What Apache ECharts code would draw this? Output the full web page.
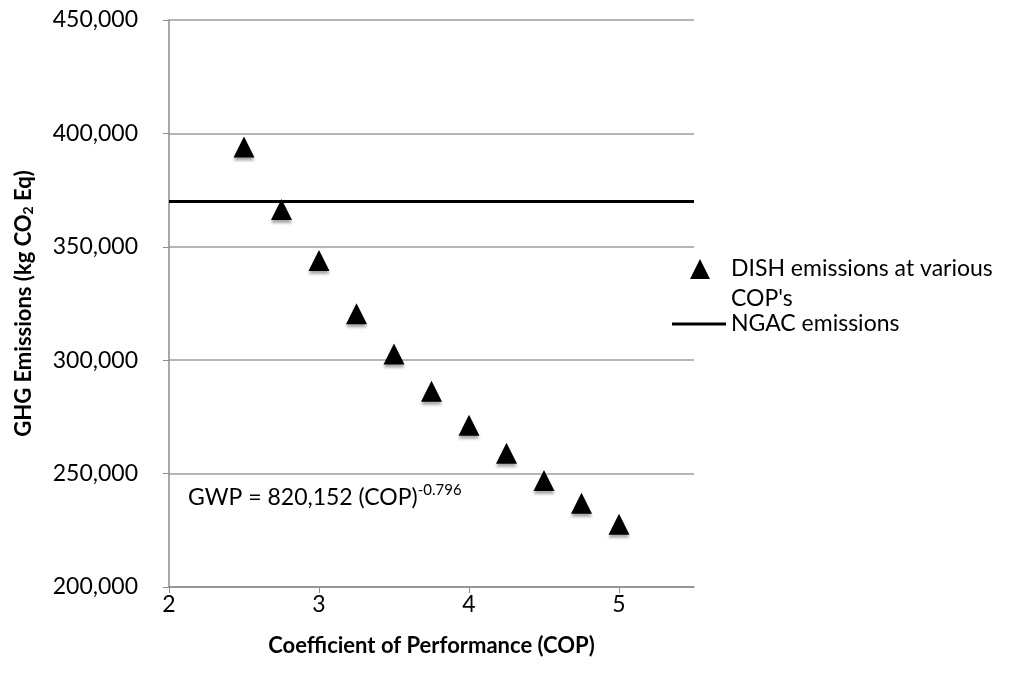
<!DOCTYPE html>
<html>
<head>
<meta charset="utf-8">
<script src="https://cdn.jsdelivr.net/npm/echarts@6/dist/echarts.min.js"></script>
<style>
  html, body { margin: 0; padding: 0; background: #fff; }
  #chart { width: 1011px; height: 679px; }
</style>
</head>
<body>
<div id="chart"></div>
<script>
// COP values and DISH emissions
var cop = [2.5, 2.75, 3, 3.25, 3.5, 3.75, 4, 4.25, 4.5, 4.75, 5];
var dish = [394000, 366500, 344000, 320500, 302700, 286300, 271300, 259000, 247000, 236900, 227700];
// NGAC emissions, flat line across the axis
var ngacX = [2, 5.5];
var ngacY = [370000, 370000];
var xTicks = [2, 3, 4, 5];

var font = 'Lato, "Open Sans", sans-serif';

var chart = echarts.init(document.getElementById('chart'));
chart.setOption({
  animation: false,
  textStyle: { fontFamily: font },
  grid: { left: 169, right: 317, top: 20, bottom: 92 },
  legend: [
    {
      data: ['DISH'],
      left: 685,
      top: 250,
      itemWidth: 20,
      itemHeight: 20,
      formatter: function () { return 'DISH emissions at various'; },
      textStyle: { fontSize: 23, color: '#000', lineHeight: 28, padding: [0, 0, 0, 16] }
    },
    {
      data: [{ name: 'NGAC', icon: 'rect' }],
      left: 667,
      top: 305,
      itemWidth: 54,
      itemHeight: 3,
      formatter: function () { return 'NGAC emissions'; },
      textStyle: { fontSize: 23, color: '#000', lineHeight: 28 }
    }
  ],
  graphic: [
    {
      // second line of the DISH legend label
      type: 'text',
      left: 731,
      top: 287,
      style: { text: "COP's", fontSize: 23, fontFamily: font, fill: '#000' }
    },
    {
      type: 'text',
      left: 188,
      top: 483,
      style: {
        text: '{a|GWP = 820,152 (COP)}{b|-0.796}',
        rich: {
          a: { fontSize: 23, fontFamily: font, fill: '#000' },
          b: { fontSize: 15, fontFamily: font, fill: '#000', padding: [0, 0, 14, 0] }
        }
      }
    }
  ],
  xAxis: {
    type: 'value',
    min: 2,
    max: 5.5,
    interval: 1,
    name: 'Coefficient of Performance (COP)',
    nameLocation: 'middle',
    nameGap: 48,
    nameTextStyle: { fontSize: 22, fontWeight: 'bold', color: '#000' },
    axisLine: { lineStyle: { color: '#8c8c8c', width: 1.5 } },
    axisTick: { show: true, length: 6, customValues: xTicks, lineStyle: { color: '#8c8c8c' } },
    axisLabel: { customValues: xTicks, fontSize: 23, color: '#000', margin: 6 },
    splitLine: { show: false }
  },
  yAxis: {
    type: 'value',
    min: 200000,
    max: 450000,
    interval: 50000,
    name: '{a|GHG Emissions (kg CO}{s|2}{a| Eq)}',
    nameLocation: 'middle',
    nameGap: 134,
    nameTextStyle: {
      rich: {
        a: { fontSize: 22, fontWeight: 'bold', color: '#000', fontFamily: font },
        s: { fontSize: 14, fontWeight: 'bold', color: '#000', fontFamily: font, padding: [9, 0, 0, 0] }
      }
    },
    axisLine: { show: true, lineStyle: { color: '#8c8c8c', width: 1.5 } },
    axisTick: { show: true, length: 6, lineStyle: { color: '#8c8c8c' } },
    axisLabel: {
      fontSize: 23,
      color: '#000',
      margin: 31,
      formatter: function (v) { return v.toLocaleString('en-US'); }
    },
    splitLine: { show: true, lineStyle: { color: '#9e9e9e', width: 1.5 } }
  },
  series: [
    {
      name: 'DISH',
      type: 'scatter',
      symbol: 'triangle',
      symbolSize: 21,
      data: cop.map(function (c, i) { return [c, dish[i]]; }),
      itemStyle: {
        color: '#000',
        opacity: 1,
        shadowColor: 'rgba(0,0,0,0.35)',
        shadowBlur: 3,
        shadowOffsetY: 3
      },
      z: 3
    },
    {
      name: 'NGAC',
      type: 'line',
      symbol: 'none',
      data: ngacX.map(function (x, i) { return [x, ngacY[i]]; }),
      lineStyle: { color: '#000', width: 3 },
      itemStyle: { color: '#000' },
      z: 2
    }
  ]
});
</script>
</body>
</html>
